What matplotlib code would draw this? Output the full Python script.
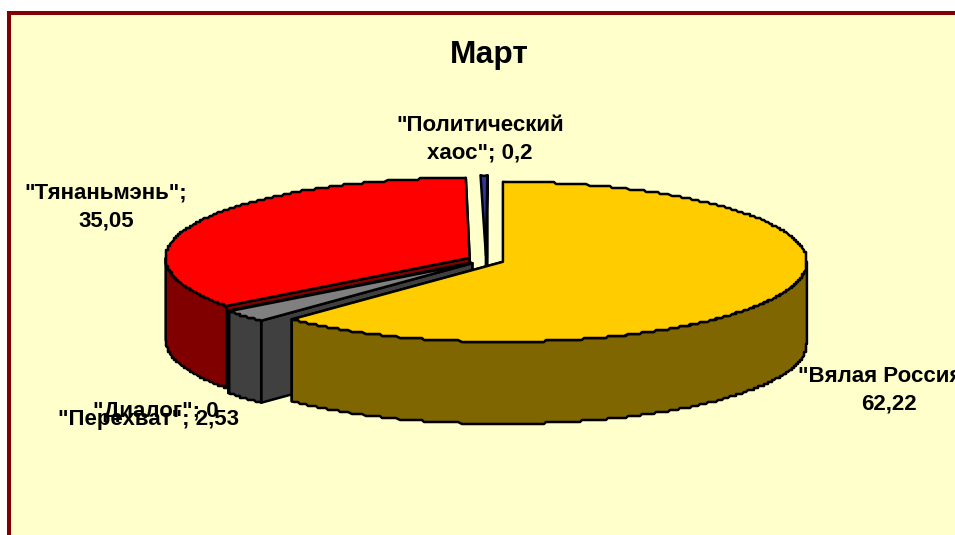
#!/usr/bin/env python3
import numpy as np
import matplotlib
matplotlib.use("Agg")
import matplotlib.pyplot as plt
from matplotlib.patches import Polygon, Rectangle

plt.rcParams['font.family'] = ['Liberation Sans', 'DejaVu Sans']

# slices go clockwise from 12 o'clock
names = ['"Вялая Россия"', '"Перехват"', '"Диалог"', '"Тянаньмэнь"', '"Политический хаос"']
values = [62.22, 2.53, 0.0, 35.05, 0.2]
top_colors = ['#FFCC00', '#808080', '#000000', '#FF0000', '#333399']
side_colors = ['#806600', '#404040', '#000000', '#800000', '#1A1A4D']
# painter's order, back to front
draw_order = [4, 3, 2, 1, 0]

cx, cy = 486, 260
rx, ry = 304, 80
depth = 82
explode = 0.06
# the thin slice is drawn wider than its share, as in the original
min_sweep = 1.3
jag = 2


def point(x0, y0, a):
    a = np.radians(a)
    return x0 + rx * np.sin(a), y0 - ry * np.cos(a)


def arc(x0, y0, a0, a1):
    t = np.linspace(a0, a1, max(2, int(abs(a1 - a0) * 2) + 1))
    xs, ys = point(x0, y0, t)
    pts = np.column_stack([xs, ys])
    # stair-stepped outline of the low-res original, ends stay exact
    pts[1:-1] = np.round(pts[1:-1] / jag) * jag
    return pts


fig = plt.figure(figsize=(9.55, 5.35), dpi=100, facecolor='white')
ax = fig.add_axes([0, 0, 1, 1])
ax.set_xlim(0, 955)
ax.set_ylim(535, 0)
ax.axis('off')

ax.add_patch(Rectangle((9, 13), 1000, 600, facecolor='#FFFFCC', edgecolor='#800000', linewidth=2.9))

edges = np.concatenate([[0], np.cumsum(values)]) / sum(values) * 360
line = dict(edgecolor='black', linewidth=1.8, joinstyle='round')

for i in draw_order:
    a0, a1 = edges[i], edges[i + 1]
    mid = (a0 + a1) / 2
    x0, y0 = point(0, 0, mid)
    x0, y0 = cx + explode * x0, cy + explode * y0

    thin = 0 < a1 - a0 < min_sweep
    if thin:
        a0, a1 = mid - min_sweep / 2, mid + min_sweep / 2

    # cut faces
    for a in ((a1,) if thin else (a1, a0)):
        px, py = point(x0, y0, a)
        face = [(x0, y0), (px, py), (px, py + depth), (x0, y0 + depth)]
        ax.add_patch(Polygon(face, facecolor=side_colors[i], **line))

    # outer wall, only the part that faces the viewer
    w0, w1 = max(a0, 90), min(a1, 270)
    if w1 >= w0:
        upper = arc(x0, y0, w0, w1)
        lower = upper[::-1] + [0, depth]
        ax.add_patch(Polygon(np.vstack([upper, lower]), facecolor=side_colors[i], **line))

    # top
    top = np.vstack([[(x0, y0)], arc(x0, y0, a0, a1)])
    ax.add_patch(Polygon(top, facecolor=top_colors[i], **line))

label_style = dict(fontsize=16, fontweight='bold', ha='center', va='center', linespacing=1.42, color='black')
ax.text(489, 55, 'Март', fontsize=22.8, fontweight='bold', ha='center', va='center', color='black')
ax.text(480, 139, '"Политический\nхаос"; 0,2', **label_style)
ax.text(106, 207, '"Тянаньмэнь";\n35,05', **label_style)
ax.text(889, 390, '"Вялая Россия";\n62,22', clip_on=True, **label_style)
ax.text(156, 411, '"Диалог"; 0', **label_style)
ax.text(148, 419, '"Перехват"; 2,53', **label_style)

fig.savefig('out.png', dpi=100)
